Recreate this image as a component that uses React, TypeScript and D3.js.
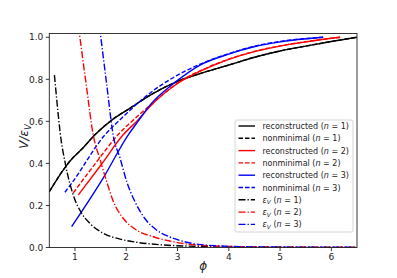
import React from "react";
import * as d3 from "d3";

type P = [number, number];

const reconN1: P[] = [[0.5,0.266],[0.82,0.385],[0.9,0.41],[1.16,0.475],[1.39,0.536],[1.75,0.612],[2.07,0.662],[2.46,0.724],[3.0,0.79],[3.5,0.832],[4.0,0.868],[4.5,0.905],[5.0,0.935],[5.5,0.958],[6.0,0.98],[6.5,1.0]];
const nonminN1: P[] = [[0.5,0.266],[0.82,0.385],[0.9,0.41],[1.16,0.475],[1.39,0.536],[1.75,0.612],[2.07,0.662],[2.46,0.724],[3.0,0.79],[3.5,0.832],[4.0,0.868],[4.5,0.905],[5.0,0.935],[5.5,0.958],[6.0,0.98],[6.5,1.0]];
const reconN2: P[] = [[1.065,0.25],[1.5,0.39],[1.94,0.536],[2.23,0.607],[2.46,0.67],[3.0,0.78],[3.5,0.845],[4.0,0.895],[4.5,0.932],[5.0,0.958],[5.5,0.978],[6.17,1.0]];
const nonminN2: P[] = [[0.967,0.26],[1.4,0.4],[1.84,0.536],[2.14,0.607],[2.46,0.675],[3.0,0.782],[3.5,0.847],[4.0,0.896],[4.5,0.933],[5.0,0.959],[5.5,0.979],[6.17,1.0]];
const reconN3: P[] = [[0.935,0.099],[1.55,0.33],[2.04,0.536],[2.23,0.6],[2.5,0.688],[2.85,0.766],[3.0,0.795],[3.44,0.868],[4.0,0.92],[4.51,0.956],[5.0,0.978],[5.84,1.0]];
const nonminN3: P[] = [[0.805,0.263],[0.935,0.305],[1.585,0.536],[1.91,0.615],[2.46,0.734],[3.0,0.82],[3.44,0.872],[4.0,0.922],[4.51,0.958],[5.0,0.98],[5.84,1.0]];
const epsN1: P[] = [[0.6,0.82],[0.675,0.63],[0.71,0.55],[0.82,0.39],[0.967,0.25],[1.13,0.163],[1.29,0.115],[1.55,0.068],[1.88,0.04],[2.2,0.025],[2.72,0.012],[3.5,0.005],[4.5,0.002],[6.5,0.0005]];
const epsN2: P[] = [[1.07,1.05],[1.22,0.774],[1.357,0.535],[1.49,0.418],[1.62,0.313],[1.75,0.218],[1.94,0.139],[2.2,0.083],[2.53,0.051],[2.85,0.031],[3.24,0.015],[4.0,0.005],[5.0,0.002],[6.5,0.0008]];
const epsN3: P[] = [[1.48,1.05],[1.62,0.774],[1.75,0.528],[1.88,0.425],[2.01,0.313],[2.17,0.218],[2.36,0.139],[2.59,0.083],[2.85,0.05],[3.18,0.025],[3.76,0.008],[4.5,0.003],[6.5,0.0008]];

const xTicks = [1, 2, 3, 4, 5, 6];
const yTicks = [0, 0.2, 0.4, 0.6, 0.8, 1.0];

const kinds = ["reconstructed", "nonminimal", "reconstructed", "nonminimal", "reconstructed", "nonminimal", "eps", "eps", "eps"];
const nValues = [1, 1, 2, 2, 3, 3, 1, 2, 3];
const colors = ["black", "black", "red", "red", "blue", "blue", "black", "red", "blue"];
const seriesData = [reconN1, nonminN1, reconN2, nonminN2, reconN3, nonminN3, epsN1, epsN2, epsN3];

const W = 397, H = 278;
const L = 49.3, R = 357, T = 33.5, B = 247.5;

export default function App() {
  const x = d3.scaleLinear().domain([0.5, 6.5]).range([L, R]);
  const y = d3.scaleLinear().domain([0, 1.018]).range([B, T]);
  const line = d3.line<P>().x(d => x(d[0])).y(d => y(d[1])).curve(d3.curveMonotoneX);
  const dashFor = (k: string) => k === "reconstructed" ? undefined : k === "nonminimal" ? "4.5,2" : "7,2,1.3,2";
  const font = "DejaVu Sans, sans-serif";
  const legX = 235, legY = 120, legW = 118, legH = 112;
  const rowY = (i: number) => 126 + i * 12.3;
  return (
    <svg width={W} height={H} style={{ position: "absolute", left: 0, top: 0 }} fontFamily={font}>
      <rect width={W} height={H} fill="white" />
      <defs>
        <clipPath id="plot"><rect x={L} y={T} width={R - L} height={B - T} /></clipPath>
      </defs>
      <g clipPath="url(#plot)">
        {seriesData.map((d, i) => (
          <path key={i} d={line(d) || ""} fill="none" stroke={colors[i]} strokeWidth={1.4}
            strokeDasharray={dashFor(kinds[i])} />
        ))}
      </g>
      <rect x={L} y={T} width={R - L} height={B - T} fill="none" stroke="#222" strokeWidth={0.9} />
      {xTicks.map(t => (
        <g key={t}>
          <line x1={x(t)} x2={x(t)} y1={B} y2={B + 3.5} stroke="#222" strokeWidth={0.9} />
          <text x={x(t)} y={B + 12} fontSize={9} textAnchor="middle" fill="#222">{t}</text>
        </g>
      ))}
      {yTicks.map(t => (
        <g key={t}>
          <line x1={L - 3.5} x2={L} y1={y(t)} y2={y(t)} stroke="#222" strokeWidth={0.9} />
          <text x={L - 6} y={y(t) + 3.2} fontSize={9} textAnchor="end" fill="#222">{t.toFixed(1)}</text>
        </g>
      ))}
      <text x={(L + R) / 2} y={270} fontSize={12} textAnchor="middle" fontStyle="italic" fill="#222">ϕ</text>
      <text transform={`translate(28,${(T + B) / 2 - 4}) rotate(-90)`} fontSize={12} textAnchor="middle" fill="#222" fontStyle="italic">
        V/ε<tspan fontSize={8.5} dy={2.5}>V</tspan>
      </text>
      <rect x={legX} y={legY} width={legW} height={legH} rx={2} fill="white" fillOpacity={0.8} stroke="#cccccc" strokeWidth={0.8} />
      {seriesData.map((_, i) => (
        <g key={i}>
          <line x1={238.5} x2={255} y1={rowY(i)} y2={rowY(i)} stroke={colors[i]} strokeWidth={1.4} strokeDasharray={dashFor(kinds[i])} />
          <text x={262.5} y={rowY(i) + 3} fontSize={8} fill="#222">
            {kinds[i] === "eps" ? (
              <>
                <tspan fontStyle="italic">ε</tspan><tspan fontStyle="italic" fontSize={6} dy={1.5}>V</tspan><tspan dy={-1.5}> (</tspan>
              </>
            ) : (
              <tspan>{kinds[i]} (</tspan>
            )}
            <tspan fontStyle="italic">n</tspan><tspan>{` = ${nValues[i]})`}</tspan>
          </text>
        </g>
      ))}
    </svg>
  );
}
